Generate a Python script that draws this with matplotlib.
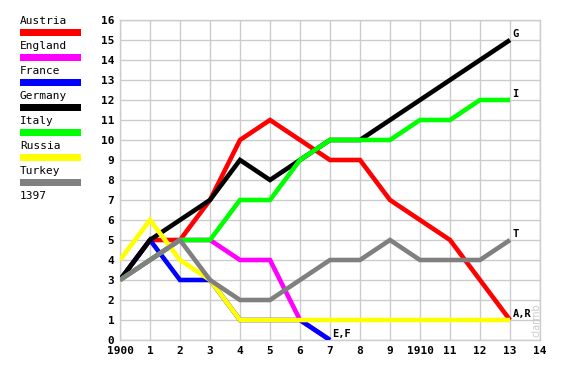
import numpy as np
import matplotlib
matplotlib.use("Agg")
import matplotlib.pyplot as plt

# Supply centre counts per year, 1900..1913
years = np.arange(0, 14)
austria = [3, 5, 5, 7, 10, 11, 10, 9, 9, 7, 6, 5, 3, 1]
england = [3, 4, 5, 5, 4, 4, 1, 0]
france = [3, 5, 3, 3, 1, 1, 1, 0]
germany = [3, 5, 6, 7, 9, 8, 9, 10, 10, 11, 12, 13, 14, 15]
italy = [3, 4, 5, 5, 7, 7, 9, 10, 10, 10, 11, 11, 12, 12]
russia = [4, 6, 4, 3, 1, 1, 1, 1, 1, 1, 1, 1, 1, 1]
turkey = [3, 4, 5, 3, 2, 2, 3, 4, 4, 5, 4, 4, 4, 5]

names = ["Austria", "England", "France", "Germany", "Italy", "Russia", "Turkey"]
series = [austria, england, france, germany, italy, russia, turkey]
colors = ["#ff0000", "#ff00ff", "#0000ff", "#000000", "#00ff00", "#ffff00", "#808080"]

end_labels = [("G", 13, 15), ("I", 13, 12), ("T", 13, 5), ("A,R", 13, 1), ("E,F", 7, 0)]
xtick_labels = ["1900", "1", "2", "3", "4", "5", "6", "7", "8", "9", "1910", "11", "12", "13", "14"]

W, H = 565, 370
fig = plt.figure(figsize=(W / 100, H / 100), dpi=100)
ax = fig.add_axes([120 / W, 30 / H, 420 / W, 320 / H])

for vals, c in zip(series, colors):
    ax.plot(years[:len(vals)], vals, color=c, lw=3.3, solid_joinstyle="miter",
            solid_capstyle="butt", zorder=3)

for txt, x, y in end_labels:
    ax.text(x + 0.08, y + 0.05, txt, fontsize=7.5, fontweight="bold",
            family="DejaVu Sans Mono", ha="left", va="bottom", zorder=4)

ax.set_xlim(0, 14)
ax.set_ylim(0, 16)
ax.set_xticks(range(15))
ax.set_xticklabels(xtick_labels)
ax.set_yticks(range(17))
ax.grid(True, color="#cccccc", lw=1)
ax.set_axisbelow(True)
for s in ax.spines.values():
    s.set_color("#cccccc")
    s.set_linewidth(1)
ax.tick_params(length=0, pad=4, labelsize=8)
for lab in ax.get_xticklabels() + ax.get_yticklabels():
    lab.set_fontweight("bold")
    lab.set_family("DejaVu Sans Mono")

ax.text(13.88, 0.15, "clarmb", rotation=90, color="#cccccc", fontsize=7,
        family="DejaVu Sans", ha="center", va="bottom")

# legend on the left
for i, (n, c) in enumerate(zip(names, colors)):
    ytxt = 21 + i * 25
    fig.text(20 / W, 1 - ytxt / H, n, fontsize=8, family="DejaVu Sans Mono",
             ha="left", va="center")
    fig.patches.append(plt.Rectangle((20 / W, 1 - (36 + i * 25) / H), 61 / W, 7 / H,
                                     transform=fig.transFigure, color=c, lw=0))
fig.text(20 / W, 1 - 196 / H, "1397", fontsize=8, family="DejaVu Sans Mono",
         ha="left", va="center")

fig.savefig("out.png", dpi=100)
